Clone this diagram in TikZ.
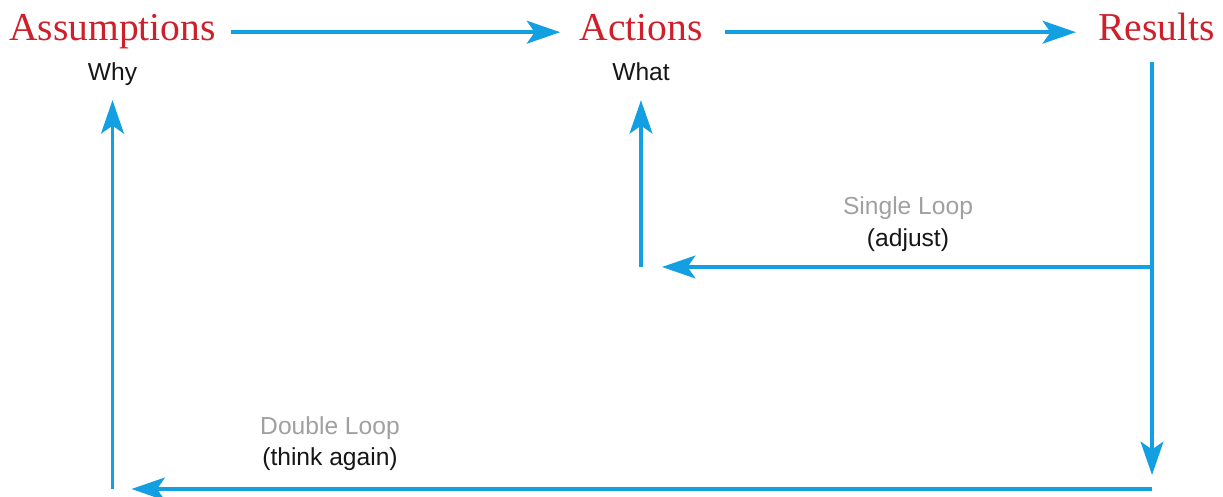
\documentclass[tikz,border=0pt]{standalone}
\usepackage{fontspec}
\setmainfont{Liberation Serif}
\setsansfont{Liberation Sans}
\usetikzlibrary{arrows.meta, positioning}
\definecolor{loopblue}{HTML}{12A0E3}
\definecolor{titlered}{HTML}{CE1F2B}
\definecolor{lighttext}{HTML}{A0A0A0}
\definecolor{darktext}{HTML}{161616}

\begin{document}
\begin{tikzpicture}[
    title/.style={font=\fontsize{22.5}{26}\selectfont, text=titlered,
                  inner sep=0pt, text height=15pt, text depth=5pt},
    sub/.style={font=\sffamily\fontsize{14}{17}\selectfont, text=darktext,
                inner sep=0pt, text height=10pt, text depth=3pt},
    note/.style={font=\sffamily\fontsize{14}{17}\selectfont, text=#1,
                 inner sep=0pt, anchor=base},
    arrow/.style={-{Stealth[length=19pt, width=13pt, inset=4.5pt]},
                  line width=2pt, color=loopblue}
]
\useasboundingbox (0,0) rectangle (24.46,9.94);

% Stages
\node[title, anchor=base] (assump) at (2.25,9.12) {Assumptions};
\node[title, anchor=base] (actions) at (12.82,9.12) {Actions};
\node[title, anchor=base] (results) at (23.13,9.12) {Results};

\node[sub, below=0.25cm of assump] (why) {Why};
\node[sub, below=0.25cm of actions] (what) {What};

% Branch points on the right
\coordinate (sl) at (23.04,4.6);
\coordinate (dl) at (23.04,0.16);

% Loop labels
\node[note=lighttext] (single) at (18.16,5.64) {Single Loop};
\node[note=darktext] (adjust) at (18.16,5.0) {(adjust)};
\node[note=lighttext] (double) at (6.6,1.24) {Double Loop};
\node[note=darktext] (again) at (6.6,0.62) {(think again)};

% Forward arrows
\draw[arrow, shorten <=0.3cm, shorten >=0.38cm] (assump.east) -- (assump.east -| actions.west);
\draw[arrow, shorten <=0.44cm, shorten >=0.44cm] (actions.east) -- (actions.east -| results.west);
\draw[arrow, shorten <=0.24cm, shorten >=0.28cm] (results.south -| sl) -- (dl);

% Single loop
\draw[arrow, shorten >=0.42cm] (sl) -- (sl -| what);
\draw[arrow, shorten >=0.28cm] (sl -| what) -- (what.south);

% Double loop
\draw[arrow, shorten >=0.38cm] (dl) -- (dl -| why);
\draw[arrow, shorten >=0.28cm] (dl -| why) -- (why.south);

\end{tikzpicture}
\end{document}
